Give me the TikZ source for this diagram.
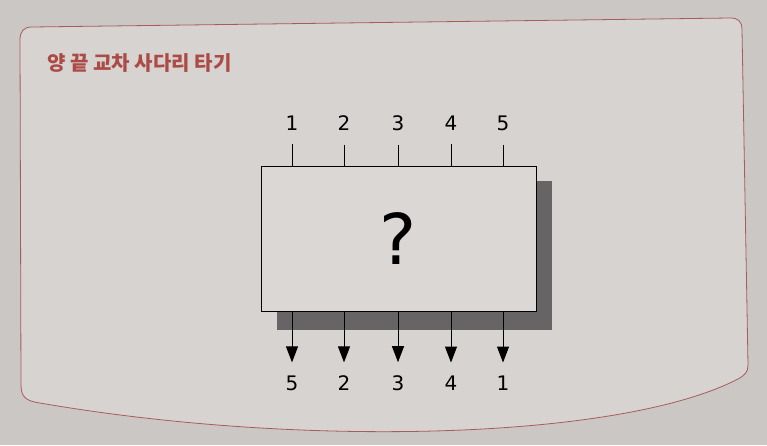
\documentclass[tikz,border=0pt]{standalone}
\usepackage{fontspec}
\setmainfont{DejaVu Sans}
\newfontfamily\krfont{Noto Sans CJK KR}
\usetikzlibrary{arrows.meta}
\definecolor{paper}{RGB}{203,199,197}
\definecolor{panel}{RGB}{214,211,209}
\definecolor{boxfill}{RGB}{218,215,213}
\definecolor{framered}{RGB}{168,92,88}
\definecolor{titlered}{RGB}{172,74,70}
\definecolor{shadowgray}{RGB}{102,100,100}

\begin{document}
\begin{tikzpicture}[x=1pt,y=-1pt,
    wire/.style={line width=1pt},
    num/.style={font=\fontsize{20}{20}\selectfont, inner sep=0pt}]
  \useasboundingbox (0,0) rectangle (767,445);
  \fill[paper] (0,0) rectangle (767,445); % the page behind the panel

  % panel with the bowed bottom edge of the photo
  \filldraw[fill=panel, draw=framered, line width=0.8pt]
    (32,27) -- (730,18) .. controls (738,18) and (742,21) .. (742,30)
    -- (748,365) .. controls (748,372) and (745,375) .. (738,379)
    .. controls (620,440) and (300,448) .. (40,403)
    .. controls (26,401) and (21,397) .. (21,385)
    -- (20,40) .. controls (20,31) and (24,27) .. (32,27) -- cycle;

  \node[anchor=west, text=titlered, font=\krfont\bfseries\fontsize{20}{20}\selectfont] (title) at (44,63) {양 끝 교차 사다리 타기};

  % the box and its shadow
  \node[minimum width=275, minimum height=145, inner sep=0pt] (blk) at (398.5,238.5) {};
  \fill[shadowgray] ([shift={(16,15)}]blk.north west) rectangle ([shift={(16,19)}]blk.south east); % Shadow
  \node[draw, line width=1pt, fill=boxfill, minimum width=275, minimum height=145, inner sep=0pt,
        font=\fontsize{70}{70}\selectfont] at (blk.center) {?};

  \foreach \x [count=\i] in {292,344,398,451,503}{                % inputs on top
      \node[num] (in\i) at (\x,123) {\i};
      \draw[wire] ([yshift=-14pt]in\i.south) -- (in\i |- blk.north);
    }
  \foreach \x/\lab [count=\i] in {292/5,344/2,398/3,451/4,503/1}{  % outputs below
      \node[num] (out\i) at (\x,383) {\lab};
      \draw[wire, -{Triangle[length=16pt,width=12pt]}] (out\i |- blk.south) -- ([yshift=13pt]out\i.north);
    }
\end{tikzpicture}
\end{document}
